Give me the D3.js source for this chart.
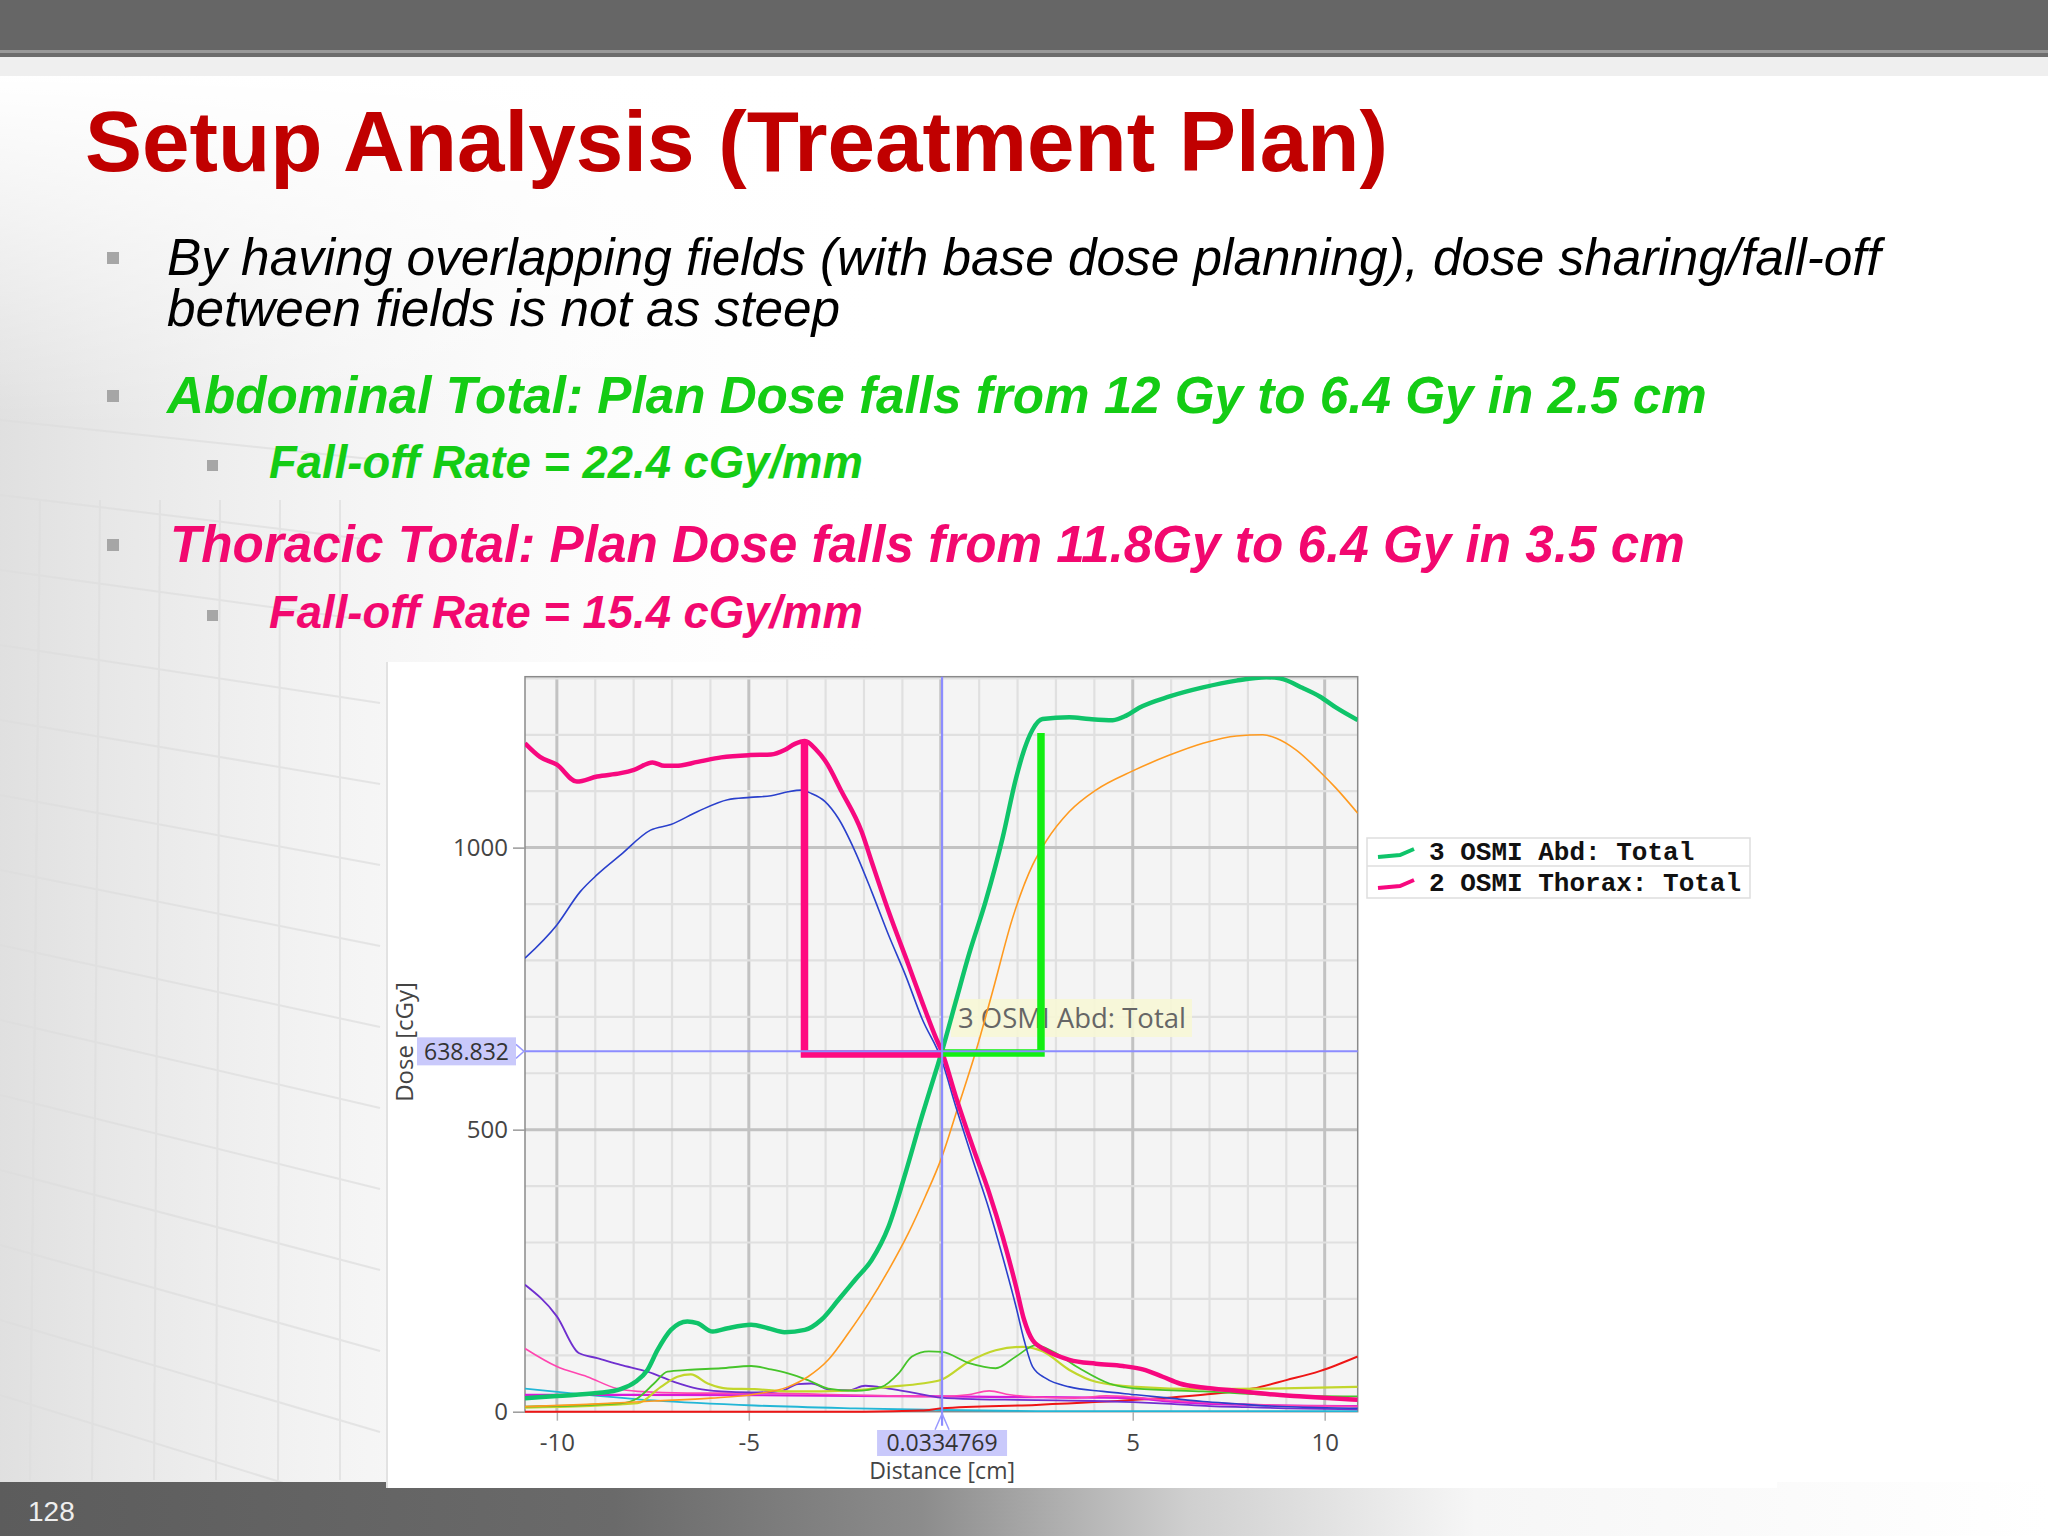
<!DOCTYPE html>
<html><head><meta charset="utf-8">
<script src="https://cdn.jsdelivr.net/npm/d3@7"></script>
<style>html,body{margin:0;padding:0;background:#fff;} svg{display:block;}</style>
</head><body><svg id="c" width="2048" height="1536"></svg>
<script>
// ---------------- DATA ----------------
const xDomain = [-10.83, 10.86];          // Distance [cm]
const doseDomain = [0, 1303];             // Dose [cGy]
const xTickValues = [-10, -5, 5, 10];
const doseTickValues = [0, 500, 1000];
const cursorDistance = 0.0334769;
const cursorDose = 638.832;

const abdTotal = [[-10.83,24],[-10,28],[-8.95,33],[-8.34,40],[-7.95,53],[-7.64,74],[-7.38,109],[-7.03,145],[-6.6,160],[-6.34,157],[-5.94,142],[-5.55,148],[-4.94,154],[-4.5,148],[-4.07,141],[-3.54,145],[-3.11,163],[-2.67,198],[-2.23,234],[-1.8,269],[-1.36,328],[-0.92,423],[-0.49,524],[-0.14,601],[0.03,639],[0.39,727],[0.74,812],[1.17,905],[1.61,1017],[1.96,1123],[2.17,1173],[2.39,1209],[2.65,1228],[3.35,1231],[3.87,1228],[4.48,1226],[4.83,1234],[5.17,1248],[5.96,1268],[6.83,1284],[7.7,1296],[8.48,1302],[8.83,1300],[9.43,1283],[9.87,1268],[10.3,1248],[10.86,1226]];
const thoraxTotal = [[-10.83,1185],[-10.44,1161],[-10,1147],[-9.48,1117],[-8.95,1126],[-8.34,1132],[-7.99,1138],[-7.51,1151],[-7.2,1145],[-6.9,1145],[-6.33,1152],[-5.72,1160],[-4.97,1164],[-4.42,1165],[-4.07,1173],[-3.8,1184],[-3.54,1189],[-3.24,1173],[-3.02,1155],[-2.58,1099],[-2.06,1028],[-1.8,975],[-1.36,887],[-0.84,792],[-0.49,727],[-0.14,665],[0.03,638],[0.39,559],[0.83,470],[1.26,388],[1.61,311],[1.96,222],[2.17,163],[2.39,127],[2.74,109],[3.35,92],[4.04,85],[4.74,81],[5.26,75],[5.78,62],[6.22,50],[6.83,43],[7.7,37],[8.57,31],[9.43,27],[10.86,21]];
const blueDose = [[-10.83,804],[-10,863],[-9.39,922],[-8.95,952],[-8.34,987],[-7.56,1031],[-7.03,1041],[-6.33,1064],[-5.55,1085],[-4.97,1089],[-4.42,1092],[-3.98,1099],[-3.63,1102],[-3.37,1096],[-3.02,1082],[-2.67,1052],[-2.23,993],[-1.8,922],[-1.36,845],[-0.92,774],[-0.49,697],[0.03,622],[0.39,541],[0.83,447],[1.26,358],[1.61,275],[1.96,186],[2.17,127],[2.39,80],[2.74,59],[3.35,44],[4.22,36],[5.09,30],[5.96,24],[6.83,18],[7.7,14],[8.57,10],[9.43,8],[10.86,6]];
const orangeDose = [[-10.83,9],[-9.21,13],[-7.47,19],[-5.99,24],[-4.85,31],[-3.98,44],[-3.46,62],[-2.93,92],[-2.41,139],[-1.88,192],[-1.36,251],[-0.84,317],[-0.4,382],[0.02,450],[0.45,540],[0.91,638],[1.35,745],[1.87,875],[2.39,969],[2.74,1011],[3.35,1064],[4.04,1102],[5,1136],[5.96,1164],[6.83,1185],[7.7,1198],[8.39,1200],[8.74,1194],[9.26,1173],[9.87,1135],[10.3,1105],[10.86,1061]];
const purpleDose = [[-10.83,225],[-10,169],[-9.43,104],[-8.95,95],[-8.34,83],[-7.64,71],[-6.95,53],[-6.34,41],[-5.72,36],[-4.94,34],[-4.15,37],[-3.72,49],[-3.37,50],[-2.84,38],[-2.41,38],[-1.97,46],[-1.36,41],[-0.66,33],[0,25],[1,22],[2,21],[3,20],[4,19],[5,17],[6,14],[7,10],[8,8],[9,6],[10.86,4]];
const pinkDose = [[-10.83,112],[-10,80],[-9.21,62],[-8.43,41],[-7.9,36],[-6.6,33],[-4.85,33],[-3.11,31],[-1.36,28],[0,27],[0.7,30],[1.26,37],[1.8,30],[2.5,26],[3.5,24],[4.3,28],[5,26],[6,20],[7,16],[8,13],[9,11],[10.86,9]];
const magentaDose = [[-10.83,30],[-8,30],[-4,29],[0,27],[2,26],[4,25],[5,24],[6,18],[7,14],[8,12],[10.86,10]];
const greenDose = [[-10.83,9],[-8.34,15],[-7.9,24],[-7.47,50],[-7.12,71],[-6.6,74],[-5.72,77],[-4.94,81],[-4.42,75],[-3.98,68],[-3.46,56],[-2.93,41],[-2.23,37],[-1.54,44],[-1.1,68],[-0.75,98],[-0.31,107],[0.03,106],[0.74,86],[1.43,77],[1.96,98],[2.48,118],[2.91,107],[3.61,77],[4.39,50],[5.09,41],[6.83,36],[8.57,30],[10.86,27]];
const yellowDose = [[-10.83,7],[-7.9,15],[-7.29,44],[-6.86,62],[-6.51,66],[-6.07,50],[-5.55,41],[-4.85,40],[-3.98,36],[-3.11,36],[-2.23,38],[-1.36,44],[-0.49,50],[0.03,57],[0.74,89],[1.43,109],[2.13,115],[2.65,107],[3.35,74],[4.04,53],[5.09,44],[6.83,40],[8.57,41],[10.86,44]];
const cyanDose = [[-10.83,41],[-9.21,30],[-7.47,20],[-4.85,11],[-2.23,6],[0,3],[3,1],[10.86,1]];
const redDose = [[-10.83,0],[-2,0],[-0.5,2],[0.03,6],[2.48,12],[5.09,21],[6.83,30],[8.13,41],[9,56],[9.87,72],[10.86,98]];
const abdMarker = [[0.03,636],[2.61,636],[2.61,1203]];
const thoraxMarker = [[-3.55,1191],[-3.55,634],[0.0,634]];
const legendLabels = ["3 OSMI Abd: Total", "2 OSMI Thorax: Total"];

// ---------------- STYLES ----------------
const thinSeries = [
  {d: cyanDose, c: "#22b6d6", w: 1.8},
  {d: redDose, c: "#ee1515", w: 2},
  {d: magentaDose, c: "#d81ad8", w: 2.2},
  {d: pinkDose, c: "#ff45b0", w: 1.6},
  {d: purpleDose, c: "#6f2fcf", w: 1.8},
  {d: yellowDose, c: "#c2d62c", w: 2.2},
  {d: greenDose, c: "#46c42a", w: 1.8},
  {d: orangeDose, c: "#ff9a1f", w: 1.6},
  {d: blueDose, c: "#2a40cc", w: 1.6}
];
const GREEN = "#0fc46a", PINK = "#f7087f";

const svg = d3.select('#c');
const defs = svg.append('defs');

// background
const bg = defs.append('linearGradient').attr('id','bgL').attr('x1',0).attr('x2',1).attr('y1',0).attr('y2',0);
bg.append('stop').attr('offset',0).attr('stop-color','#d8d8d8').attr('stop-opacity',0.8);
bg.append('stop').attr('offset',0.4).attr('stop-color','#e8e8e8').attr('stop-opacity',0.45);
bg.append('stop').attr('offset',1).attr('stop-color','#ffffff').attr('stop-opacity',0);
const bgV = defs.append('linearGradient').attr('id','bgV').attr('x1',0).attr('x2',0).attr('y1',0).attr('y2',1);
bgV.append('stop').attr('offset',0).attr('stop-color','#fff').attr('stop-opacity',1);
bgV.append('stop').attr('offset',0.5).attr('stop-color','#fff').attr('stop-opacity',0);
svg.append('rect').attr('x',0).attr('y',76).attr('width',900).attr('height',1410).attr('fill','url(#bgL)');
svg.append('rect').attr('x',0).attr('y',76).attr('width',900).attr('height',700).attr('fill','url(#bgV)');
const deco = svg.append('g').attr('stroke','#dedede').attr('stroke-width',2).attr('fill','none').attr('opacity',0.7);
d3.range(14).forEach(i => {
  const y0 = 420 + i*75;
  deco.append('line').attr('x1',0).attr('y1',y0).attr('x2',380).attr('y2',y0 + 40 + i*6);
});
d3.range(6).forEach(i => {
  deco.append('line').attr('x1',40+i*60).attr('y1',500).attr('x2',30+i*62).attr('y2',1480);
});

// header
svg.append('rect').attr('x',0).attr('y',0).attr('width',2048).attr('height',50).attr('fill','#666666');
svg.append('rect').attr('x',0).attr('y',50).attr('width',2048).attr('height',3).attr('fill','#999999');
svg.append('rect').attr('x',0).attr('y',53).attr('width',2048).attr('height',4).attr('fill','#6c6c6c');
svg.append('rect').attr('x',0).attr('y',57).attr('width',2048).attr('height',19).attr('fill','#efefef');

// footer
const fg = defs.append('linearGradient').attr('id','foot').attr('x1',0).attr('x2',1).attr('y1',0).attr('y2',0);
[[0,'#5c5c5c'],[0.3,'#6a6a6a'],[0.45,'#8c8c8c'],[0.58,'#cfcfcf'],[0.72,'#f6f6f6'],[1,'#ffffff']].forEach(s=>fg.append('stop').attr('offset',s[0]).attr('stop-color',s[1]));
svg.append('rect').attr('x',0).attr('y',1482).attr('width',2048).attr('height',54).attr('fill','url(#foot)');
svg.append('text').attr('x',28).attr('y',1521).attr('fill','#eeeeee').style('font-family','Liberation Sans, Arial').style('font-size','28px').text('128');

function fit(sel, target){
  const w = sel.node().getComputedTextLength();
  const fs = parseFloat(sel.style('font-size'));
  sel.style('font-size', (fs*target/w) + 'px');
  return fs*target/w;
}

// title
const title = svg.append('text').attr('x',85).attr('y',171).attr('fill','#c00000')
  .style('font-family','Liberation Sans, Arial').style('font-weight','bold').style('font-size','86px')
  .text('Setup Analysis (Treatment Plan)');
fit(title, 1303);

// bullets
const bul = svg.append('g').attr('fill','#a6a6a6');
[[107,252,12],[107,390,12],[107,539,12],[207,460,11],[207,610,11]].forEach(b=>bul.append('rect').attr('x',b[0]).attr('y',b[1]).attr('width',b[2]).attr('height',b[2]));

const t1 = svg.append('text').attr('x',167).attr('y',275).attr('fill','#000')
  .style('font-family','Liberation Sans, Arial').style('font-style','italic').style('font-size','46px')
  .text('By having overlapping fields (with base dose planning), dose sharing/fall-off');
const fs1 = fit(t1, 1714);
svg.append('text').attr('x',167).attr('y',326).attr('fill','#000')
  .style('font-family','Liberation Sans, Arial').style('font-style','italic').style('font-size',fs1+'px')
  .text('between fields is not as steep');

const GTXT = '#14cc14', PTXT = '#f2086f';
function boldIt(x,y,col,str,w){
  const t = svg.append('text').attr('x',x).attr('y',y).attr('fill',col)
    .style('font-family','Liberation Sans, Arial').style('font-style','italic').style('font-weight','bold').style('font-size','46px').text(str);
  fit(t,w);
}
boldIt(167,413,GTXT,'Abdominal Total: Plan Dose falls from 12 Gy to 6.4 Gy in 2.5 cm',1540);
boldIt(269,478,GTXT,'Fall-off Rate = 22.4 cGy/mm',594);
boldIt(170,562,PTXT,'Thoracic Total: Plan Dose falls from 11.8Gy to 6.4 Gy in 3.5 cm',1515);
boldIt(269,628,PTXT,'Fall-off Rate = 15.4 cGy/mm',594);

// chart panel
svg.append('rect').attr('x',387).attr('y',662).attr('width',1390).attr('height',826).attr('fill','#ffffff');
svg.append('line').attr('x1',387).attr('x2',387).attr('y1',662).attr('y2',1488).attr('stroke','#e2e2e2').attr('stroke-width',2);

// scales
const X = d3.scaleLinear().domain(xDomain).range([525, 1357.7]);
const Y = d3.scaleLinear().domain(doseDomain).range([1411.7, 676.7]);
const L = X.range()[0], R = X.range()[1], T = Y.range()[1], B = Y.range()[0];

defs.append('clipPath').attr('id','plotClip').append('rect').attr('x',L).attr('y',T).attr('width',R-L).attr('height',B-T+2);

svg.append('rect').attr('x',L).attr('y',T).attr('width',R-L).attr('height',B-T).attr('fill','#f4f4f4');

const grid = svg.append('g');
d3.range(-10, 11).forEach(v => {
  const major = v % 5 === 0;
  grid.append('line').attr('x1',X(v)).attr('x2',X(v)).attr('y1',T).attr('y2',B)
    .attr('stroke', major ? '#c2c2c2' : '#e0e0e0').attr('stroke-width', major ? 3 : 2.2);
});
d3.range(100, 1301, 100).forEach(v => {
  const major = v % 500 === 0;
  grid.append('line').attr('x1',L).attr('x2',R).attr('y1',Y(v)).attr('y2',Y(v))
    .attr('stroke', major ? '#c2c2c2' : '#e0e0e0').attr('stroke-width', major ? 3 : 2.2);
});
svg.append('rect').attr('x',L).attr('y',T).attr('width',R-L).attr('height',B-T).attr('fill','none').attr('stroke','#8a8a8a').attr('stroke-width',1.5);

// axes
const fontAxis = 'Open Sans, Noto Sans, sans-serif';
const yAxis = svg.append('g').attr('transform',`translate(${L},0)`)
  .call(d3.axisLeft(Y).tickValues(doseTickValues).tickSize(12).tickPadding(5).tickFormat(d=>String(d)));
yAxis.select('.domain').remove();
yAxis.selectAll('.tick line').attr('stroke','#9a9a9a').attr('stroke-width',1.5);
yAxis.selectAll('.tick text').attr('fill','#444').style('font-family',fontAxis).style('font-size','24px');

const xAxis = svg.append('g').attr('transform',`translate(0,${B})`)
  .call(d3.axisBottom(X).tickValues(xTickValues).tickSize(9).tickPadding(13).tickFormat(d=>String(d)));
xAxis.select('.domain').remove();
xAxis.selectAll('.tick line').attr('stroke','#b0b0b0').attr('stroke-width',1.5);
xAxis.selectAll('.tick text').attr('fill','#444').style('font-family',fontAxis).style('font-size','24px');

svg.append('text').attr('transform',`translate(413,1042) rotate(-90)`).attr('text-anchor','middle')
  .attr('fill','#444').style('font-family',fontAxis).style('font-size','24px').text('Dose [cGy]');
svg.append('text').attr('x',X(cursorDistance)).attr('y',1479).attr('text-anchor','middle')
  .attr('fill','#444').style('font-family',fontAxis).style('font-size','23px').text('Distance [cm]');

// tooltip label (under curves)
const tipG = svg.append('g');
tipG.append('rect').attr('x',951).attr('y',999).attr('width',241).attr('height',38).attr('fill','#f7f7d6').attr('opacity',0.9);
const tip = tipG.append('text').attr('x',958).attr('y',1028).attr('fill','#666')
  .style('font-family',fontAxis).style('font-size','26px').text(legendLabels[0]);
fit(tip, 228);

// curves
const plot = svg.append('g').attr('clip-path','url(#plotClip)');
const line = d3.line().x(d=>X(d[0])).y(d=>Y(d[1])).curve(d3.curveMonotoneX);
thinSeries.forEach(s => {
  plot.append('path').attr('d', line(s.d)).attr('fill','none').attr('stroke',s.c).attr('stroke-width',s.w).attr('stroke-linejoin','round');
});
plot.append('path').attr('d', line(abdTotal)).attr('fill','none').attr('stroke',GREEN).attr('stroke-width',4.5).attr('stroke-linejoin','round');
plot.append('path').attr('d', line(thoraxTotal)).attr('fill','none').attr('stroke',PINK).attr('stroke-width',4.5).attr('stroke-linejoin','round');

// cursor
const cx = X(cursorDistance), cy = Y(cursorDose);
svg.append('line').attr('x1',L).attr('x2',R).attr('y1',cy).attr('y2',cy).attr('stroke','#8c8cff').attr('stroke-width',2);
svg.append('line').attr('x1',cx).attr('x2',cx).attr('y1',T).attr('y2',B+14).attr('stroke','#8c8cff').attr('stroke-width',2.2);
svg.append('path').attr('d',`M${cx-7},${B+18} L${cx},${B+2} L${cx+7},${B+18}`).attr('fill','none').attr('stroke','#9a9aff').attr('stroke-width',1.5);
svg.append('path').attr('d',`M${L-9},${cy-7} L${L-1},${cy} L${L-9},${cy+7}`).attr('fill','none').attr('stroke','#9a9aff').attr('stroke-width',1.5);

// markers
const lin = d3.line().x(d=>X(d[0])).y(d=>Y(d[1]));
plot.append('path').attr('d', lin(thoraxMarker)).attr('fill','none').attr('stroke','#ff0a80').attr('stroke-width',7.5).attr('stroke-linejoin','miter');
plot.append('path').attr('d', lin(abdMarker)).attr('fill','none').attr('stroke','#12ee12').attr('stroke-width',7.5).attr('stroke-linejoin','miter');

// cursor value boxes
svg.append('rect').attr('x',417).attr('y',cy-14).attr('width',99).attr('height',28).attr('fill','#c9c9fb');
svg.append('text').attr('x',466.5).attr('y',cy+8.5).attr('text-anchor','middle').attr('fill','#333')
  .style('font-family',fontAxis).style('font-size','23px').text(d3.format('.6')(cursorDose));
svg.append('rect').attr('x',cx-65).attr('y',1430).attr('width',130).attr('height',26).attr('fill','#c9c9fb');
svg.append('text').attr('x',cx).attr('y',1451).attr('text-anchor','middle').attr('fill','#333')
  .style('font-family',fontAxis).style('font-size','23px').text(String(cursorDistance));

// legend
const lg = svg.append('g');
lg.append('rect').attr('x',1367).attr('y',838).attr('width',383).attr('height',60).attr('fill','#fff').attr('stroke','#dedede').attr('stroke-width',1.5);
lg.append('line').attr('x1',1367).attr('x2',1750).attr('y1',866).attr('y2',866).attr('stroke','#dedede').attr('stroke-width',1.5);
[[GREEN,860],[PINK,891]].forEach((r,i)=>{
  const y0 = r[1];
  lg.append('path').attr('d',`M1378,${y0-3} L1400,${y0-5} L1414,${y0-11}`).attr('fill','none').attr('stroke',r[0]).attr('stroke-width',4);
  lg.append('text').attr('x',1429).attr('y',y0).attr('fill','#111')
    .style('font-family','Liberation Mono, Courier New, monospace').style('font-weight','bold').style('font-size','26px')
    .text(legendLabels[i]);
});
</script></body></html>
